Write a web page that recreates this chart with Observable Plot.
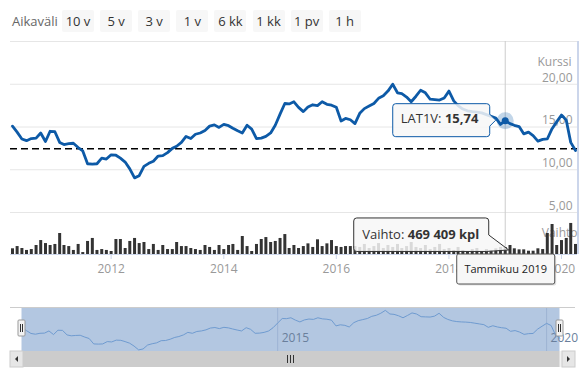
<!DOCTYPE html>
<html><head><meta charset="utf-8">
<script src="https://cdn.jsdelivr.net/npm/d3@7"></script>
<script src="https://cdn.jsdelivr.net/npm/@observablehq/plot@0.6"></script>
<style>
body{margin:0;background:#fff;font-family:"Open Sans",sans-serif;}
#wrap{position:relative;width:588px;height:370px;overflow:hidden;background:#fff;}
#wrap svg{position:absolute;left:0;top:0;}
.lbl{position:absolute;left:12px;top:10px;line-height:22px;font-size:13px;color:#666;}
.btn{position:absolute;top:10px;height:22px;width:32px;line-height:22px;text-align:center;font-size:13px;background:#f7f7f7;color:#333;border-radius:2px;}
</style></head><body>
<div id="wrap"></div>
<script>
// ---- data ----
const seriesName = "LAT1V";
const volumeName = "Vaihto";
const priceAxisTitle = "Kurssi";
const rangeLabel = "Aikaväli";
const rangeButtons = ["10 v","5 v","3 v","1 v","6 kk","1 kk","1 pv","1 h"];
const firstMonth = "2010-04-01";
const lastMonth = "2020-04-01";
const price = [15.1,14.4,13.6,13.4,13.65,13.7,14.3,13.3,14.5,14.45,13.2,12.95,13.05,13.1,12.6,12.2,10.7,10.65,10.7,11.35,
  11.25,11.75,11.7,11.35,10.9,10.1,9.05,9.3,10.4,10.75,11.0,11.6,11.65,12.0,12.5,12.75,13.2,13.9,13.65,14.15,
  14.3,14.6,15.1,15.25,14.95,15.3,15.15,14.85,14.55,14.3,15.2,14.75,13.65,13.7,13.9,14.3,15.2,16.5,17.75,17.7,
  17.95,17.3,16.8,17.35,17.6,17.5,17.95,17.65,17.55,17.3,15.7,16.0,15.85,15.4,16.6,17.15,17.45,17.75,18.35,18.65,
  19.2,20.0,19.0,18.9,18.5,17.95,18.6,19.3,19.0,18.25,18.2,18.15,18.4,19.2,18.05,17.5,17.1,16.9,16.8,16.75,
  16.65,16.45,16.25,16.05,15.3,15.74,15.4,15.2,15.05,14.2,14.4,14.0,13.35,13.55,13.6,14.8,15.6,16.4,15.8,13.2,12.25];
const volume = [380000,530000,400000,270000,330000,600000,930000,730000,600000,670000,1400000,600000,530000,270000,670000,130000,870000,1070000,270000,330000,
  270000,200000,1000000,1000000,400000,870000,1070000,730000,800000,330000,670000,270000,600000,330000,330000,800000,530000,530000,400000,330000,
  270000,600000,470000,270000,600000,330000,600000,670000,270000,1200000,530000,200000,670000,1000000,1130000,800000,870000,1070000,1330000,400000,
  600000,400000,530000,710000,470000,980000,530000,710000,930000,530000,470000,530000,530000,530000,470000,670000,400000,530000,730000,400000,
  600000,470000,670000,400000,530000,800000,470000,400000,600000,330000,470000,670000,330000,400000,270000,470000,270000,200000,330000,400000,
  200000,330000,270000,380000,470000,469409,600000,380000,310000,310000,220000,220000,380000,330000,1400000,2000000,600000,930000,1070000,2070000,670000];
const priceGrid = [5,10,15,20,25];
const priceLabels = [5,10,15,20];
const yearTicks = ["2012","2014","2016","2018","2020"];
const navYearTicks = ["2015","2020"];
const referenceLevel = 12.47;
const hoverMonth = "2019-01-01";
const hoverLabel = "Tammikuu 2019";

// ---- build ----
const months = d3.utcMonth.range(new Date(firstMonth), d3.utcMonth.offset(new Date(lastMonth), 1));
const rows = months.map((d, i) => ({date: d, price: price[i], vol: volume[i]}));
const d0 = months[0], d1 = months[months.length - 1];
const hoverDate = new Date(hoverMonth);
const hover = rows.find(r => +r.date === +hoverDate);
const fmtNum = v => v.toFixed(2).replace(".", ",");
const fmtVol = v => d3.format(",")(v).replace(/,/g, " ");
const LINE = "#0d5aa7";
const LABEL = "#999";
const font = {background: "transparent", fontFamily: "Open Sans", fontSize: "12px", overflow: "visible"};

const wrap = document.getElementById("wrap");
const lbl = document.createElement("div"); lbl.className = "lbl"; lbl.textContent = rangeLabel; wrap.appendChild(lbl);
rangeButtons.forEach((b, i) => {
  const e = document.createElement("div"); e.className = "btn"; e.textContent = b;
  e.style.left = (62 + i * 38.1) + "px"; wrap.appendChild(e);
});

const xOpt = {type: "utc", domain: [d0, d1], range: [12, 575], axis: null};

const pricePlot = Plot.plot({
  width: 588, height: 370, marginLeft: 10, marginRight: 11, marginTop: 41, marginBottom: 116,
  x: xOpt,
  y: {domain: [5, 25], range: [212, 41], axis: null},
  style: font,
  marks: [
    Plot.ruleY(priceGrid, {stroke: "#e6e6e6"}),
    Plot.text(priceLabels, {x: () => d1, y: d => d, text: fmtNum, textAnchor: "end", dx: -3, dy: -6.5, fill: LABEL}),
    Plot.text([priceAxisTitle], {frameAnchor: "top-right", dx: -6, dy: 16, fill: LABEL, textAnchor: "end"}),
    Plot.ruleX([hoverDate], {stroke: "#cccccc"}),
    Plot.ruleX([d1], {dx: 2.5, stroke: "#ccd6eb", strokeWidth: 2}),
    Plot.ruleY([referenceLevel], {stroke: "#000", strokeWidth: 1.5, strokeDasharray: "7,4"}),
    Plot.line(rows, {x: "date", y: "price", stroke: LINE, strokeWidth: 2.8, strokeLinejoin: "round", strokeLinecap: "round"}),
    Plot.dot([hover], {x: "date", y: "price", r: 8.5, fill: LINE, fillOpacity: 0.25}),
    Plot.dot([hover], {x: "date", y: "price", r: 3.5, fill: LINE})
  ]
});

const yearDates = yearTicks.map(y => new Date(y + "-01-01"));
const volPlot = Plot.plot({
  width: 588, height: 370, marginLeft: 10, marginRight: 11, marginTop: 218, marginBottom: 116,
  x: xOpt,
  y: {domain: [0, 2400000], range: [254, 218], axis: null},
  style: font,
  marks: [
    Plot.text([volumeName], {frameAnchor: "top-right", dy: 10, fill: LABEL, textAnchor: "end"}),
    Plot.ruleX(rows, {x: "date", y1: 0, y2: "vol", stroke: "#333", strokeWidth: 3}),
    Plot.ruleY([0], {stroke: "#ccd6eb"}),
    Plot.ruleX(yearDates, {x: d => d, y1: 0, y2: 0, insetBottom: -5, stroke: "#ccd6eb"}),
    Plot.text(yearDates, {x: d => d, y: 0, dy: 15, text: d => String(d.getUTCFullYear()), fill: LABEL})
  ]
});

const navDates = navYearTicks.map(y => new Date(y + "-01-01"));
const navPlot = Plot.plot({
  width: 588, height: 370, marginLeft: 10, marginRight: 13, marginTop: 307, marginBottom: 19,
  x: {type: "utc", domain: [d0, d1], range: [21.5, 559.5], axis: null},
  y: {domain: [8.6, 20.8], axis: null},
  style: font,
  marks: [
    Plot.rect([0], {x1: () => d0, x2: () => d1, fill: "#b3c7e1"}),
    Plot.ruleX(navDates, {x: d => d, stroke: "#9db3d3"}),
    Plot.text(navDates, {x: d => d, frameAnchor: "bottom", dx: 4, dy: -9.5, textAnchor: "start", text: d => String(d.getUTCFullYear()), fill: "#6a7f9c"}),
    Plot.line(rows, {x: "date", y: "price", stroke: "#6f9bd0", strokeWidth: 1}),
    Plot.ruleY([20.8], {stroke: "#cccccc"})
  ]
});

wrap.appendChild(pricePlot);
wrap.appendChild(volPlot);
wrap.appendChild(navPlot);

// ---- overlay: tooltips, navigator handles, scrollbar ----
const px = pricePlot.scale("x").apply(hover.date);
const py = pricePlot.scale("y").apply(hover.price);
const vy = volPlot.scale("y").apply(hover.vol);
const base = volPlot.scale("y").apply(0);
const nx0 = navPlot.scale("x").apply(d0), nx1 = navPlot.scale("x").apply(d1);

const svg = d3.create("svg").attr("width", 588).attr("height", 370)
  .style("font-family", "Open Sans").style("overflow", "visible");

// price tooltip
{
  const bx = px - 112, by = py - 16.5, w = 97, h = 33;
  svg.append("path")
    .attr("d", `M${bx + 3},${by} H${bx + w - 3} Q${bx + w},${by} ${bx + w},${by + 3} V${py - 6} L${px - 9},${py} L${bx + w},${py + 6} V${by + h - 3} Q${bx + w},${by + h} ${bx + w - 3},${by + h} H${bx + 3} Q${bx},${by + h} ${bx},${by + h - 3} V${by + 3} Q${bx},${by} ${bx + 3},${by} Z`)
    .attr("fill", "rgba(247,247,247,0.85)").attr("stroke", LINE).attr("stroke-width", 1);
  const t = svg.append("text").attr("x", bx + 8).attr("y", py + 2.5).attr("font-size", 13).attr("fill", "#333");
  t.append("tspan").text(seriesName + ": ");
  t.append("tspan").attr("font-weight", "bold").text(fmtNum(hover.price));
}
// volume tooltip
{
  const bx = px - 151, by = vy - 29, w = 135, h = 33.5;
  svg.append("path")
    .attr("d", `M${bx + 3},${by} H${bx + w - 3} Q${bx + w},${by} ${bx + w},${by + 3} V${by + 17} L${px + 4},${vy + 3} L${bx + w - 2},${by + h} H${bx + 3} Q${bx},${by + h} ${bx},${by + h - 3} V${by + 3} Q${bx},${by} ${bx + 3},${by} Z`)
    .attr("fill", "rgba(247,247,247,0.85)").attr("stroke", "#333").attr("stroke-width", 1);
  const t = svg.append("text").attr("x", bx + 8.5).attr("y", by + 21.5).attr("font-size", 13).attr("fill", "#333");
  t.append("tspan").text(volumeName + ": ");
  t.append("tspan").attr("font-weight", "bold").text(fmtVol(hover.vol) + " kpl");
}
// date label on x axis
{
  const w = 98, h = 30, bx = px - 48, by = base;
  svg.append("rect").attr("x", bx + 1.5).attr("y", by + 1.5).attr("width", w).attr("height", h).attr("rx", 2).attr("fill", "rgba(0,0,0,0.12)");
  svg.append("rect").attr("x", bx).attr("y", by).attr("width", w).attr("height", h).attr("rx", 2)
    .attr("fill", "#f7f7f7").attr("stroke", "#555").attr("stroke-width", 1);
  svg.append("text").attr("x", bx + w / 2).attr("y", by + h / 2 + 4).attr("text-anchor", "middle")
    .attr("font-size", 11).attr("fill", "#222").text(hoverLabel);
}
// navigator handles
[nx0, nx1].forEach(hx => {
  svg.append("rect").attr("x", hx - 3.5).attr("y", 320).attr("width", 7).attr("height", 16).attr("rx", 1)
    .attr("fill", "#f2f2f2").attr("stroke", "#999");
  [-1, 1].forEach(o => svg.append("line").attr("x1", hx + o).attr("x2", hx + o).attr("y1", 324).attr("y2", 332).attr("stroke", "#333"));
});
// scrollbar
{
  const y0 = 351, h = 16, left = 10, right = 575;
  svg.append("rect").attr("x", left).attr("y", y0).attr("width", right - left).attr("height", h).attr("fill", "#f2f2f2");
  svg.append("rect").attr("x", nx0).attr("y", y0).attr("width", nx1 - nx0).attr("height", h).attr("fill", "#cccccc");
  svg.append("rect").attr("x", left).attr("y", y0).attr("width", 13).attr("height", h).attr("fill", "#e6e6e6").attr("stroke", "#cccccc");
  svg.append("rect").attr("x", right - 13).attr("y", y0).attr("width", 13).attr("height", h).attr("fill", "#e6e6e6").attr("stroke", "#cccccc");
  const cy = y0 + h / 2;
  svg.append("path").attr("d", `M${left + 8},${cy - 3} L${left + 5},${cy} L${left + 8},${cy + 3} Z`).attr("fill", "#333");
  svg.append("path").attr("d", `M${right - 8},${cy - 3} L${right - 5},${cy} L${right - 8},${cy + 3} Z`).attr("fill", "#333");
  const gx = (nx0 + nx1) / 2;
  [-3, 0, 3].forEach(o => svg.append("line").attr("x1", gx + o).attr("x2", gx + o).attr("y1", cy - 4).attr("y2", cy + 4).attr("stroke", "#333"));
}
wrap.appendChild(svg.node());
</script>
</body></html>
